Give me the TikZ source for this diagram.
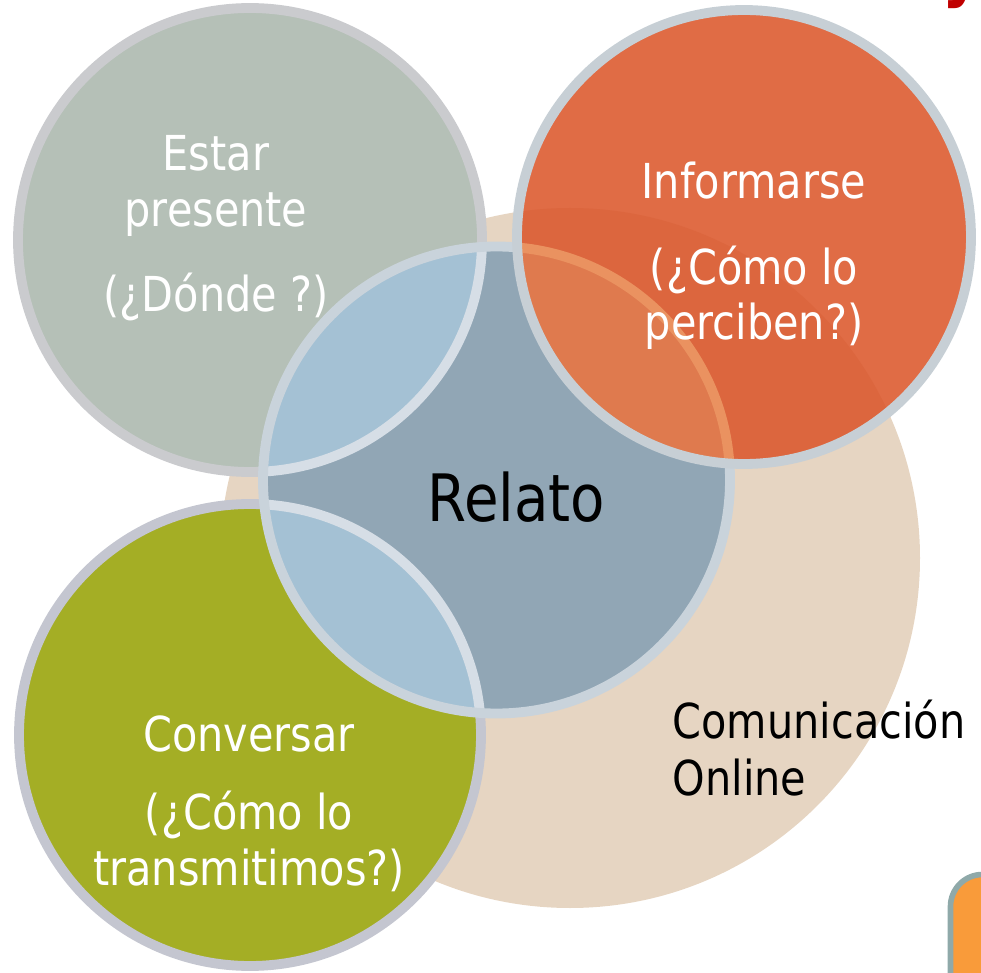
\documentclass[tikz,border=0pt]{standalone}
\usepackage{fontspec}
\setmainfont{DejaVu Sans}[FakeStretch=0.86]
\usetikzlibrary{positioning}

\definecolor{beigefill}{HTML}{E6D5C2}
\definecolor{grayfill}{HTML}{B5C0B7}
\definecolor{grayring}{HTML}{CACBCE}
\definecolor{orangefill}{HTML}{E06C45}
\definecolor{orangedark}{HTML}{DC663E}
\definecolor{orangelight}{HTML}{DF7A4E}
\definecolor{orangearc}{HTML}{EA9260}
\definecolor{orangering}{HTML}{C7CFD5}
\definecolor{bluefill}{HTML}{91A6B5}
\definecolor{bluering}{HTML}{C9D3DB}
\definecolor{lensblue}{HTML}{A4C1D4}
\definecolor{lensline}{HTML}{D6DEE6}
\definecolor{greenfill}{HTML}{A4AE25}
\definecolor{greenring}{HTML}{C4C6D0}
\definecolor{boxfill}{HTML}{F99B3A}
\definecolor{boxline}{HTML}{8FA9A9}
\definecolor{titlered}{HTML}{C00000}

\begin{document}
\begin{tikzpicture}[
    ring/.style={line width=2.8pt},
    circtext/.style={text=white, align=center, anchor=base, inner sep=0pt,
        font=\fontsize{13.7}{15.9}\selectfont},
    darktext/.style={text=black, inner sep=0pt, anchor=base}
]
    \useasboundingbox (0,0) rectangle (9.81,-9.73);

    % Centres
    \coordinate (online) at (5.70,-5.58);
    \coordinate (presente) at (2.50,-2.40);
    \coordinate (informarse) at (7.44,-2.37);
    \coordinate (relato) at (4.965,-4.80);
    \coordinate (conversar) at (2.50,-7.35);

    % Comunicacion Online
    \fill[beigefill] (online) circle (3.50);

    % Estar presente
    \fill[grayfill] (presente) circle (2.32);
    \draw[ring, grayring] (presente) circle (2.32);

    % Conversar
    \fill[greenfill] (conversar) circle (2.31);
    \draw[ring, greenring] (conversar) circle (2.31);

    % Relato
    \fill[bluefill] (relato) circle (2.335);
    \begin{scope}
        \clip (presente) circle (2.32);
        \fill[lensblue] (relato) circle (2.335);
    \end{scope}
    \begin{scope}
        \clip (conversar) circle (2.31);
        \fill[lensblue] (relato) circle (2.335);
    \end{scope}
    \begin{scope}
        \clip (relato) circle (2.335);
        \draw[ring, lensline] (presente) circle (2.32);
        \draw[ring, lensline] (conversar) circle (2.31);
    \end{scope}
    \draw[ring, bluering] (relato) circle (2.335);

    % Informarse
    \fill[orangefill] (informarse) circle (2.27);
    \begin{scope}
        \clip (informarse) circle (2.27);
        \fill[orangedark] (online) circle (3.50);
        \fill[orangelight] (relato) circle (2.335);
        \draw[ring, orangearc] (relato) circle (2.335);
    \end{scope}
    \draw[ring, orangering] (informarse) circle (2.27);

    % Texts (anchored at the last line)
    \node[circtext] (estar) at (2.16,-3.12) {Estar\\presente\\[0.3cm](¿Dónde ?)};
    \node[circtext] (info) at (7.54,-3.40) {Informarse\\[0.3cm](¿Cómo lo\\perciben?)};
    \node[circtext] (conv) at (2.49,-8.85) {Conversar\\[0.22cm](¿Cómo lo\\transmitimos?)};
    \node[darktext, font=\fontsize{18.6}{22}\selectfont] (rel) at (5.165,-5.22) {Relato};
    \node[darktext, align=left, anchor=base west, font=\fontsize{13.7}{16.2}\selectfont]
        (com) at (6.72,-7.95) {Comunicación\\Online};

    % cut off pieces at the edges
    \node[text=titlered, font=\bfseries\fontsize{20}{24}\selectfont, anchor=base] (titulo) at (9.62,0.06) {y};
    \draw[line width=1.6pt, draw=boxline, fill=boxfill, rounded corners=0.32cm]
        (9.505,-8.745) rectangle (11.2,-11.2);
\end{tikzpicture}
\end{document}
